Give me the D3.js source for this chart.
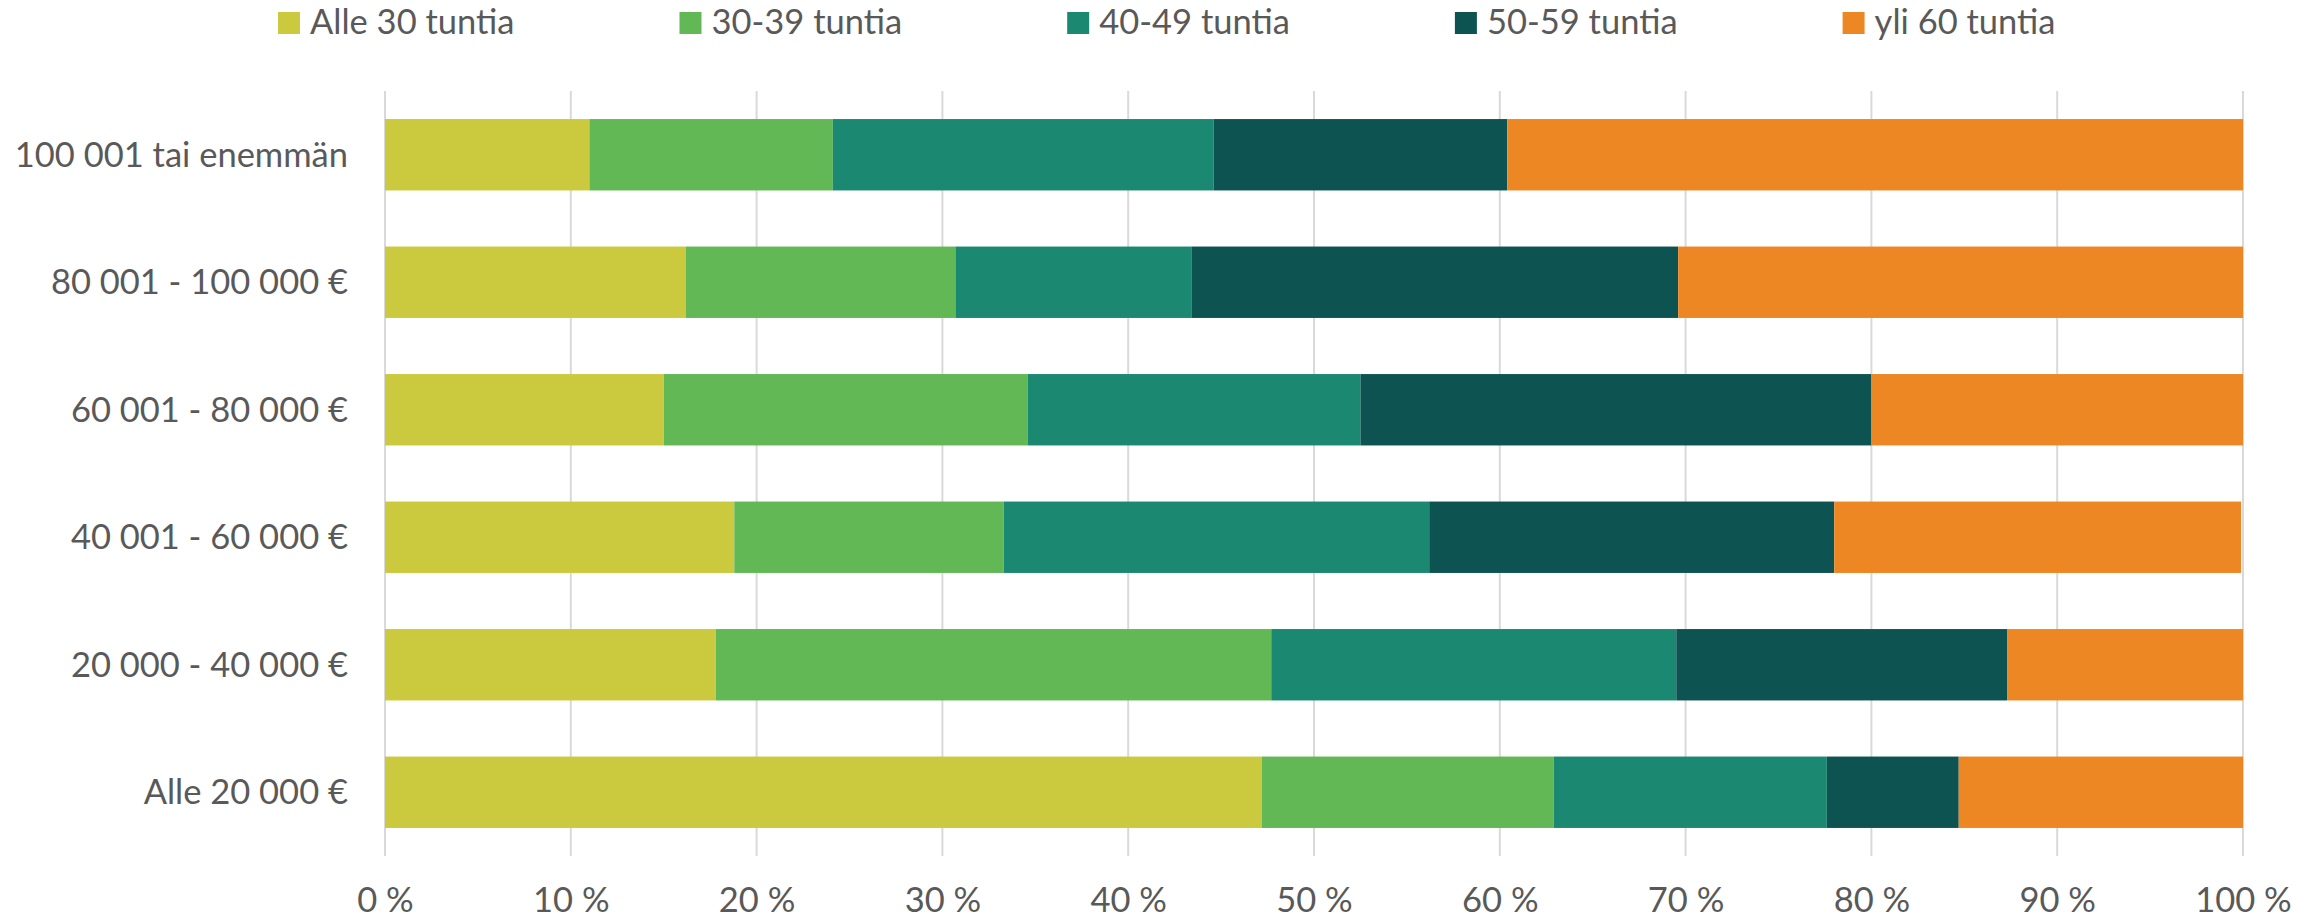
<!DOCTYPE html>
<html>
<head>
<meta charset="utf-8">
<script src="https://cdn.jsdelivr.net/npm/d3@7"></script>
<style>
  html, body { margin: 0; padding: 0; background: #ffffff; }
  svg { display: block; }
  text { font-family: Lato, "Open Sans", sans-serif; fill: #595959; }
</style>
</head>
<body>
<svg id="chart" width="2323" height="922"></svg>
<script>
// ---- data ----
const categories = [
  "100 001 tai enemmän",
  "80 001 - 100 000 €",
  "60 001 - 80 000 €",
  "40 001 - 60 000 €",
  "20 000 - 40 000 €",
  "Alle 20 000 €"
];
const seriesNames = ["Alle 30 tuntia", "30-39 tuntia", "40-49 tuntia", "50-59 tuntia", "yli 60 tuntia"];
const alle30  = [11.0, 16.2, 15.0, 18.8, 17.8, 47.2];
const h30_39  = [13.1, 14.5, 19.6, 14.5, 29.9, 15.7];
const h40_49  = [20.5, 12.7, 17.9, 22.9, 21.8, 14.7];
const h50_59  = [15.8, 26.2, 27.5, 21.8, 17.8, 7.1];
const yli60   = [39.6, 30.4, 20.0, 21.9, 12.7, 15.3];
const xTicks  = [0, 10, 20, 30, 40, 50, 60, 70, 80, 90, 100];
const xTickLabels = ["0 %", "10 %", "20 %", "30 %", "40 %", "50 %", "60 %", "70 %", "80 %", "90 %", "100 %"];

const colors = ["#CBCA3E", "#61B855", "#1B8871", "#0D5352", "#ED8724"];

// ---- build table ----
const seriesValues = [alle30, h30_39, h40_49, h50_59, yli60];
const table = categories.map((c, i) => {
  const row = { category: c };
  seriesNames.forEach((s, j) => { row[s] = seriesValues[j][i]; });
  return row;
});
const stacked = d3.stack().keys(seriesNames)(table);

// ---- layout ----
const svg = d3.select("#chart");
const plotLeft = 385, plotRight = 2243, plotTop = 91, plotBottom = 856;
const fontSize = 34.5;

const x = d3.scaleLinear().domain([0, 100]).range([plotLeft, plotRight]);
const y = d3.scaleBand().domain(categories).range([plotTop, plotBottom])
  .paddingInner(0.44).paddingOuter(0.22);

// gridlines
svg.append("g")
  .selectAll("line")
  .data(xTicks)
  .join("line")
  .attr("x1", d => x(d)).attr("x2", d => x(d))
  .attr("y1", plotTop).attr("y2", plotBottom)
  .attr("stroke", "#D9D9D9")
  .attr("stroke-width", 2);

// bars
const g = svg.append("g");
stacked.forEach((layer, j) => {
  g.append("g")
    .attr("fill", colors[j])
    .selectAll("rect")
    .data(layer)
    .join("rect")
    .attr("x", d => x(d[0]))
    .attr("width", d => x(d[1]) - x(d[0]))
    .attr("y", d => y(d.data.category))
    .attr("height", y.bandwidth());
});

// x axis labels
const xAxis = d3.axisBottom(x).tickValues(xTicks)
  .tickFormat((d, i) => xTickLabels[i]).tickSize(0).tickPadding(0);
const xg = svg.append("g").attr("transform", `translate(0, ${plotBottom})`).call(xAxis);
xg.select(".domain").remove();
xg.selectAll("text")
  .attr("y", 56).attr("dy", null)
  .style("font-family", "Lato, 'Open Sans', sans-serif")
  .style("font-size", fontSize + "px")
  .attr("fill", "#595959");

// y axis labels
const yAxis = d3.axisLeft(y).tickSize(0).tickPadding(0);
const yg = svg.append("g").attr("transform", `translate(348, 0)`).call(yAxis);
yg.select(".domain").remove();
yg.selectAll("text")
  .attr("x", 0).attr("dy", "0.35em")
  .style("font-family", "Lato, 'Open Sans', sans-serif")
  .style("font-size", fontSize + "px")
  .attr("fill", "#595959");

// legend
const legend = svg.append("g");
let lx = 278;
seriesNames.forEach((s, j) => {
  const item = legend.append("g").attr("transform", `translate(${lx}, 0)`);
  item.append("rect").attr("x", 0).attr("y", 12).attr("width", 22).attr("height", 22)
    .attr("fill", colors[j]);
  const t = item.append("text").attr("x", 32).attr("y", 34)
    .style("font-size", fontSize + "px").text(s);
  const w = t.node().getComputedTextLength();
  lx += 32 + w + 165;
});
</script>
</body>
</html>
